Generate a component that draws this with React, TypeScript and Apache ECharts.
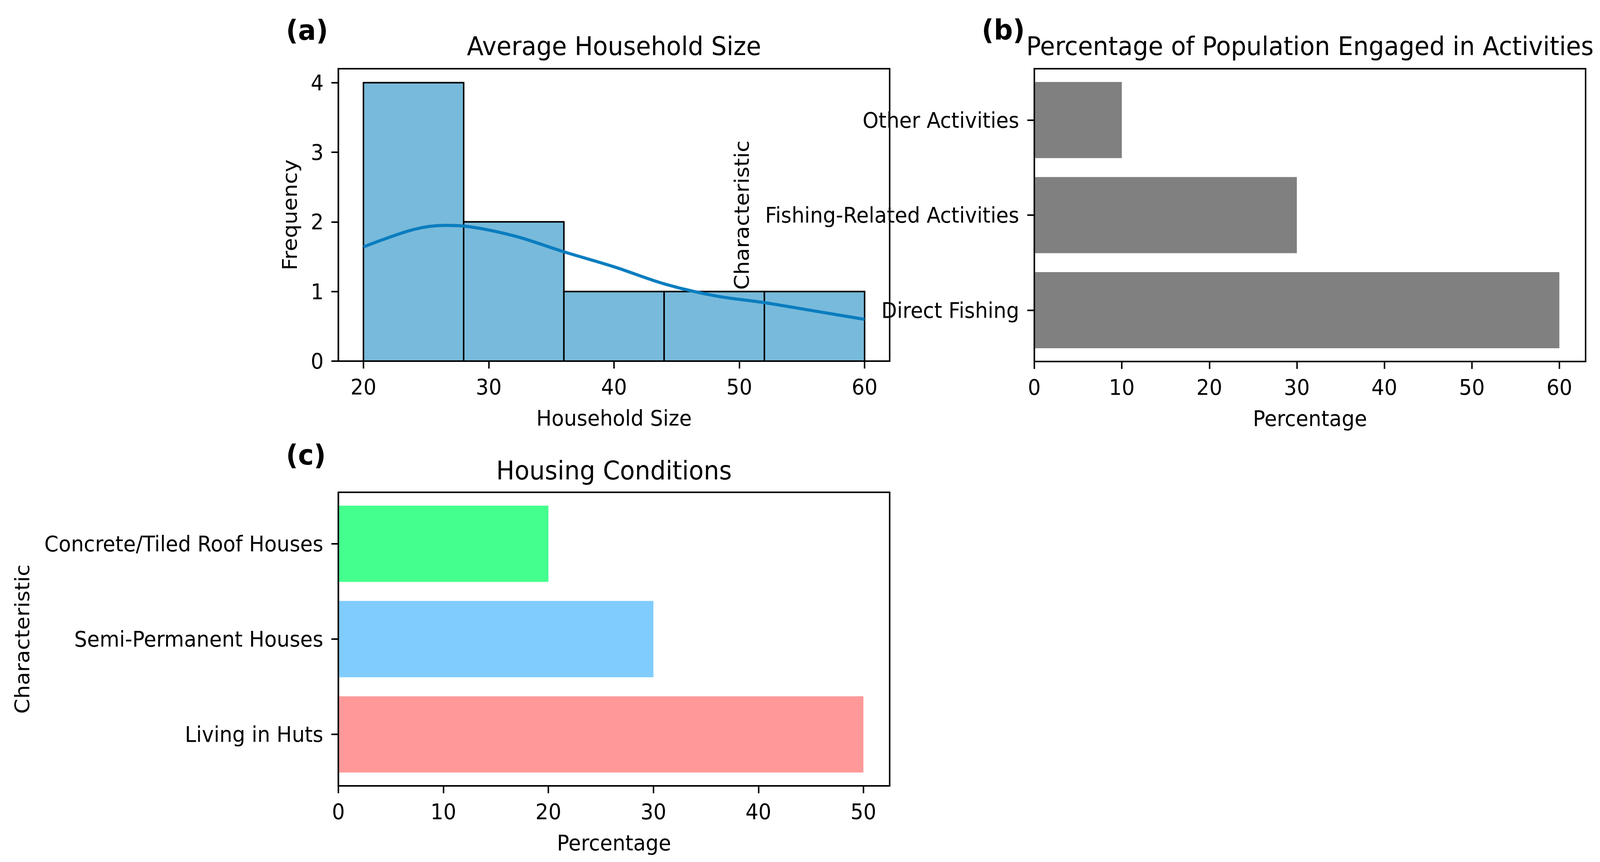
import React, { useEffect, useRef } from "react";
import * as echarts from "echarts";

// ---------- data ----------
const binEdges = [20, 28, 36, 44, 52, 60];
const binCounts = [4, 2, 1, 1, 1];
const kdeX = [20, 24, 26.5, 28, 32, 36, 40, 44, 48, 52, 56, 60];
const kdeY = [1.64, 1.89, 1.95, 1.94, 1.8, 1.57, 1.355, 1.11, 0.94, 0.84, 0.72, 0.6];
const histXTicks = [20, 30, 40, 50, 60];
const histYTicks = [0, 1, 2, 3, 4];

const activityNames = ["Direct Fishing", "Fishing-Related Activities", "Other Activities"];
const activityValues = [60, 30, 10];
const activityTicks = [0, 10, 20, 30, 40, 50, 60];

const housingNames = ["Living in Huts", "Semi-Permanent Houses", "Concrete/Tiled Roof Houses"];
const housingValues = [50, 30, 20];
const housingColors = ["#FF9999", "#80CCFF", "#44FF8D"];
const housingTicks = [0, 10, 20, 30, 40, 50];

const W = 4336;
const H = 2208;
const FONT = "'DejaVu Sans', sans-serif";
const TICK_FS = 55;
const TITLE_FS = 66;

function axisCommon(extra: any) {
  return {
    axisLine: { show: true, onZero: false, lineStyle: { color: "#000", width: 4 } },
    splitLine: { show: false },
    nameTextStyle: { fontSize: TICK_FS, fontFamily: FONT, color: "#000" },
    z: 10,
    ...extra,
  };
}

function tickStyle(vals: number[]) {
  return { show: true, customValues: vals, length: 19, lineStyle: { color: "#000", width: 4 } };
}

function labelStyle(vals: number[], margin: number, fmt?: any) {
  return {
    show: true,
    customValues: vals,
    fontSize: TICK_FS,
    fontFamily: FONT,
    color: "#000",
    margin,
    ...(fmt ? { formatter: fmt } : {}),
  };
}

function makeHBarRender(colors: string[] | null) {
  return (params: any, api: any) => {
    const v = api.value(0);
    const idx = api.value(1);
    const p0 = api.coord([0, idx + 0.4]);
    const p1 = api.coord([v, idx - 0.4]);
    return {
      type: "rect",
      shape: { x: p0[0], y: p0[1], width: p1[0] - p0[0], height: p1[1] - p0[1] },
      style: { fill: colors ? colors[params.dataIndex] : "#808080" },
    };
  };
}

export default function App() {
  const ref = useRef<HTMLDivElement>(null);
  const vw = typeof window !== "undefined" ? document.documentElement.clientWidth || window.innerWidth : W;
  const vh = typeof window !== "undefined" ? document.documentElement.clientHeight || window.innerHeight : H;
  const sx = vw / W;
  const sy = vh / H;

  useEffect(() => {
    if (!ref.current) return;
    const chart = echarts.init(ref.current, null, { renderer: "svg", width: W, height: H });

    const histData = binCounts.map((c, i) => [binEdges[i], binEdges[i + 1], c]);
    const kdeData = kdeX.map((x, i) => [x, kdeY[i]]);
    const actData = activityValues.map((v, i) => [v, i]);
    const housData = housingValues.map((v, i) => [v, i]);

    const gridStyle = {
      show: true,
      borderColor: "#000",
      borderWidth: 4,
      backgroundColor: "transparent",
      containLabel: false,
      outerBoundsMode: "none",
    };

    const option: any = {
      animation: false,
      backgroundColor: "#fff",
      grid: [
        { ...gridStyle, left: 917, top: 176, width: 1494, height: 749 },
        { ...gridStyle, left: 2803, top: 176, width: 1494, height: 750 },
        { ...gridStyle, left: 917, top: 1261, width: 1494, height: 752 },
      ],
      xAxis: [
        axisCommon({
          type: "value",
          gridIndex: 0,
          min: 18,
          max: 62,
          axisTick: tickStyle(histXTicks),
          axisLabel: labelStyle(histXTicks, 38),
          name: "Household Size",
          nameLocation: "middle",
          nameGap: 118,
        }),
        axisCommon({
          type: "value",
          gridIndex: 1,
          min: 0,
          max: 63,
          axisTick: tickStyle(activityTicks),
          axisLabel: labelStyle(activityTicks, 38),
          name: "Percentage",
          nameLocation: "middle",
          nameGap: 118,
        }),
        axisCommon({
          type: "value",
          gridIndex: 2,
          min: 0,
          max: 52.5,
          axisTick: tickStyle(housingTicks),
          axisLabel: labelStyle(housingTicks, 38),
          name: "Percentage",
          nameLocation: "middle",
          nameGap: 118,
        }),
      ],
      yAxis: [
        axisCommon({
          type: "value",
          gridIndex: 0,
          min: 0,
          max: 4.2,
          axisTick: tickStyle(histYTicks),
          axisLabel: labelStyle(histYTicks, 40),
          name: "Frequency",
          nameLocation: "middle",
          nameGap: 104,
        }),
        axisCommon({
          type: "value",
          gridIndex: 1,
          min: -0.54,
          max: 2.54,
          axisTick: tickStyle([0, 1, 2]),
          axisLabel: labelStyle([0, 1, 2], 41, (v: number) => activityNames[Math.round(v)] ?? ""),
          name: "Characteristic",
          nameLocation: "middle",
          nameGap: 765,
        }),
        axisCommon({
          type: "value",
          gridIndex: 2,
          min: -0.54,
          max: 2.54,
          axisTick: tickStyle([0, 1, 2]),
          axisLabel: labelStyle([0, 1, 2], 41, (v: number) => housingNames[Math.round(v)] ?? ""),
          name: "Characteristic",
          nameLocation: "middle",
          nameGap: 829,
        }),
      ],
      series: [
        {
          type: "custom",
          xAxisIndex: 0,
          yAxisIndex: 0,
          data: histData,
          encode: { x: [0, 1], y: 2 },
          z: 2,
          renderItem: (params: any, api: any) => {
            const a = api.coord([api.value(0), api.value(2)]);
            const b = api.coord([api.value(1), 0]);
            return {
              type: "rect",
              shape: { x: a[0], y: a[1], width: b[0] - a[0], height: b[1] - a[1] },
              style: { fill: "#78BADB", stroke: "#000", lineWidth: 4 },
            };
          },
        },
        {
          type: "line",
          xAxisIndex: 0,
          yAxisIndex: 0,
          data: kdeData,
          smooth: 0.35,
          showSymbol: false,
          symbol: "none",
          z: 4,
          lineStyle: { color: "#0A7DBF", width: 8 },
        },
        {
          type: "custom",
          xAxisIndex: 1,
          yAxisIndex: 1,
          data: actData,
          encode: { x: 0, y: 1 },
          z: 2,
          renderItem: makeHBarRender(null),
        },
        {
          type: "custom",
          xAxisIndex: 2,
          yAxisIndex: 2,
          data: housData,
          encode: { x: 0, y: 1 },
          z: 2,
          renderItem: makeHBarRender(housingColors),
        },
      ],
      graphic: [
        ["(a)", 832, 77],
        ["(b)", 2719, 76],
        ["(c)", 829, 1165],
      ]
        .map(([t, x, y]) => ({
          type: "text",
          x,
          y,
          z: 100,
          style: {
            text: t,
            fontSize: 72,
            fontWeight: "bold",
            fontFamily: FONT,
            fill: "#000",
            align: "center",
            textAlign: "center",
            verticalAlign: "middle",
            textVerticalAlign: "middle",
          },
        }))
        .concat(
          [
            ["Average Household Size", 1664, 118],
            ["Percentage of Population Engaged in Activities", 3550, 118],
            ["Housing Conditions", 1664, 1205],
          ].map(([t, x, y]) => ({
            type: "text",
            x,
            y,
            z: 100,
            style: {
              text: t,
              fontSize: TITLE_FS,
              fontWeight: "normal",
              fontFamily: FONT,
              fill: "#000",
              align: "center",
              textAlign: "center",
              verticalAlign: "middle",
              textVerticalAlign: "middle",
            },
          }))
        ),
    };

    chart.setOption(option);
    return () => chart.dispose();
  }, []);

  return (
    <div
      style={{
        position: "fixed",
        left: 0,
        top: 0,
        width: "100vw",
        height: "100vh",
        overflow: "hidden",
        background: "#fff",
      }}
    >
      <div
        ref={ref}
        style={{
          position: "absolute",
          left: 0,
          top: 0,
          width: W,
          height: H,
          transform: `scale(${sx}, ${sy})`,
          transformOrigin: "0 0",
          background: "#fff",
        }}
      />
    </div>
  );
}
